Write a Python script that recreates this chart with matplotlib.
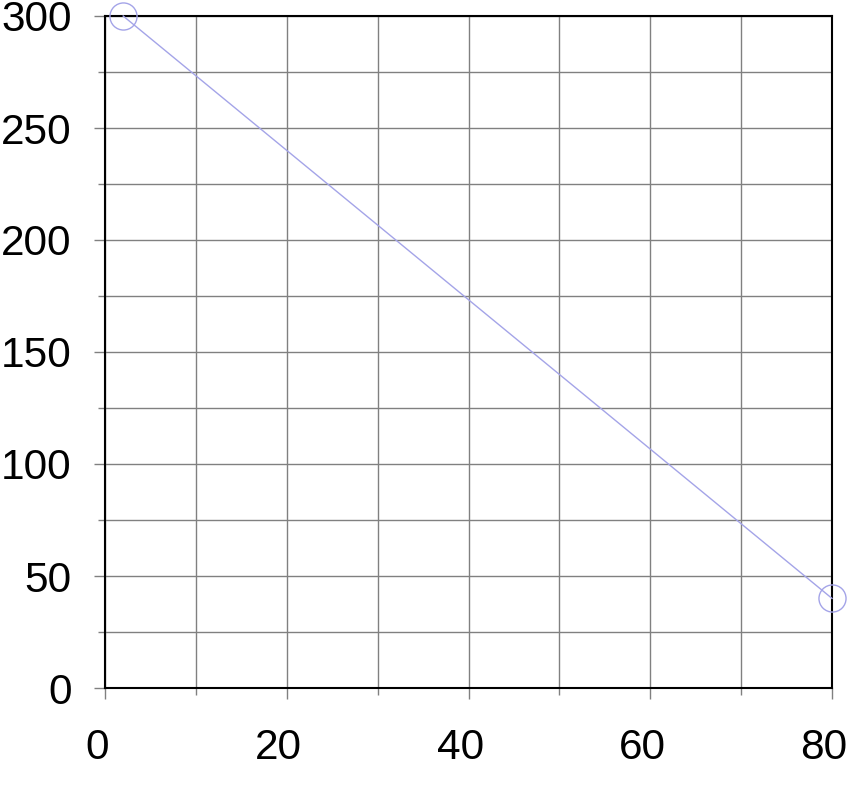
import matplotlib
matplotlib.use("Agg")
import matplotlib.pyplot as plt
from matplotlib.ticker import MultipleLocator
from matplotlib.transforms import ScaledTranslation

x_vals = [2, 80]
y_vals = [300, 40]
x_major = [0, 20, 40, 60, 80]
y_major = [0, 50, 100, 150, 200, 250, 300]

plt.rcParams['font.family'] = ['Liberation Sans', 'DejaVu Sans']

fig = plt.figure(figsize=(8.61, 8.01), dpi=100)
ax = fig.add_axes([105/861, 1-688/801, (832-105)/861, (688-16)/801])

ax.plot(x_vals, y_vals, color='#a4a4e8', lw=1.0, marker='o', ms=19.5,
        mfc='none', mec='#a4a4e8', mew=1.0, clip_on=False, zorder=5)

ax.set_xlim(0, 80)
ax.set_ylim(0, 300)
ax.set_xticks(x_major)
ax.set_yticks(y_major)
ax.xaxis.set_minor_locator(MultipleLocator(10))
ax.yaxis.set_minor_locator(MultipleLocator(25))
ax.grid(True, which='both', color='#808080', lw=1.0)
ax.set_axisbelow(True)

ax.tick_params(axis='both', which='major', length=8, width=1, color='#808080',
               labelsize=30.5, labelcolor='black')
ax.tick_params(axis='y', which='major', pad=16)
ax.tick_params(axis='x', which='major', pad=21)
ax.tick_params(axis='both', which='minor', length=5, width=1, color='#808080')

for lab in ax.get_xticklabels():
    lab.set_transform(lab.get_transform() + ScaledTranslation(-8/100, 0, fig.dpi_scale_trans))

for s in ax.spines.values():
    s.set_color('black')
    s.set_linewidth(1.5)

fig.savefig('out.png', dpi=100)
